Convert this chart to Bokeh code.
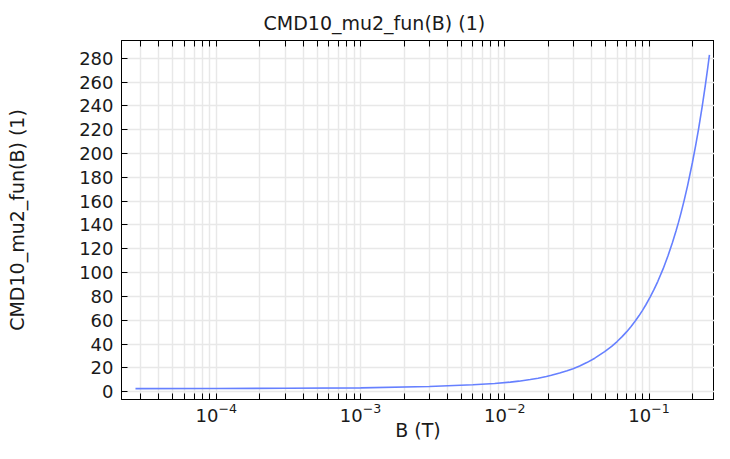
from bokeh.plotting import figure
from bokeh.models import LogAxis, FixedTicker, Range1d
from bokeh.embed import file_html
from bokeh.resources import INLINE

# ---- data ----
B_values = [2.75e-5, 1e-4, 3e-4, 1e-3, 3e-3, 6e-3, 0.0085, 0.0109, 0.0125, 0.015,
            0.017, 0.0194, 0.021, 0.024, 0.027, 0.0297, 0.033, 0.037, 0.042,
            0.0492, 0.055, 0.06, 0.065, 0.07, 0.075, 0.0804, 0.085, 0.09, 0.095,
            0.1016, 0.108, 0.115, 0.125, 0.135, 0.145, 0.1538, 0.16, 0.1663,
            0.175, 0.185, 0.1995, 0.21, 0.22, 0.233, 0.245, 0.255, 0.262]
mu2_values = [2.5, 2.6, 2.8, 3.2, 4.3, 5.8, 6.8, 8.0, 8.8, 10.2,
              11.3, 12.7, 13.7, 15.6, 17.5, 19.3, 21.6, 24.4, 28.1,
              33.6, 38.1, 42.1, 46.2, 50.4, 54.7, 59.5, 63.7, 68.3, 73.0,
              79.4, 85.7, 92.7, 103.1, 113.9, 125.0, 135.1, 142.4, 150.0,
              160.7, 173.3, 192.3, 206.4, 220.4, 239.1, 256.9, 272.1, 283.0]
x_decades = [1e-4, 1e-3, 1e-2, 1e-1]
x_minor_exps = [-5, -4, -3, -2, -1]
x_minor_mults = [2, 3, 4, 5, 6, 7, 8, 9]
y_ticks = [0, 20, 40, 60, 80, 100, 120, 140, 160, 180, 200, 220, 240, 260, 280]
title_text = "CMD10_mu2_fun(B) (1)"
x_label = "B (T)"
y_label = "CMD10_mu2_fun(B) (1)"

FONT = "DejaVu Sans"
TXT = "#1a1a1a"
GRID = "#e8e8e8"

x_minor = [m * 10.0 ** e for e in x_minor_exps for m in x_minor_mults]

p = figure(width=714, height=443, x_axis_type="log",
           x_range=Range1d(2.2e-5, 0.284), y_range=Range1d(-6.6, 295),
           output_backend="svg", toolbar_location=None,
           min_border_left=121, min_border_right=0, min_border_top=40,
           min_border_bottom=44, title=title_text)

p.title.text_font = FONT
p.title.text_font_size = "19px"
p.title.text_font_style = "normal"
p.title.text_color = TXT
p.title.align = "left"
p.title.offset = 142
p.title.standoff = 14

p.outline_line_color = "black"
p.outline_line_width = 1
p.background_fill_color = "white"
p.border_fill_color = "white"

xticker = FixedTicker(ticks=x_decades, minor_ticks=x_minor)
yticker = FixedTicker(ticks=y_ticks)

xa = p.xaxis[0]
xa.ticker = xticker
ya = p.yaxis[0]
ya.ticker = yticker

for ax in (xa, ya):
    ax.major_tick_in = 6
    ax.major_tick_out = 0
    ax.minor_tick_in = 6
    ax.minor_tick_out = 0
    ax.major_tick_line_color = "black"
    ax.minor_tick_line_color = "black"
    ax.axis_line_color = "black"
    ax.major_label_text_font = FONT
    ax.major_label_text_font_size = "18px"
    ax.major_label_text_color = TXT
    ax.axis_label_text_font = FONT
    ax.axis_label_text_font_size = "19px"
    ax.axis_label_text_font_style = "normal"
    ax.axis_label_text_color = TXT

ya.minor_tick_line_color = None
ya.major_label_standoff = 8
ya.axis_label = y_label
ya.axis_label_standoff = 48
xa.axis_label = x_label
xa.major_label_standoff = 3
xa.axis_label_standoff = -6

top = LogAxis(ticker=xticker, major_tick_in=6, major_tick_out=0,
              minor_tick_in=6, minor_tick_out=0,
              major_label_text_font_size="4px", major_label_text_color=None,
              major_label_standoff=0, axis_line_color="black",
              major_tick_line_color="black", minor_tick_line_color="black")
p.add_layout(top, "above")

p.xgrid.ticker = xticker
p.ygrid.ticker = yticker
p.xgrid.grid_line_color = GRID
p.xgrid.minor_grid_line_color = GRID
p.xgrid.grid_line_width = 1.5
p.xgrid.minor_grid_line_width = 1.5
p.ygrid.grid_line_color = GRID
p.ygrid.grid_line_width = 1.5

p.line(B_values, mu2_values, line_color="#6680ff", line_width=1.6)

open("out.html", "w").write(file_html(p, INLINE))
